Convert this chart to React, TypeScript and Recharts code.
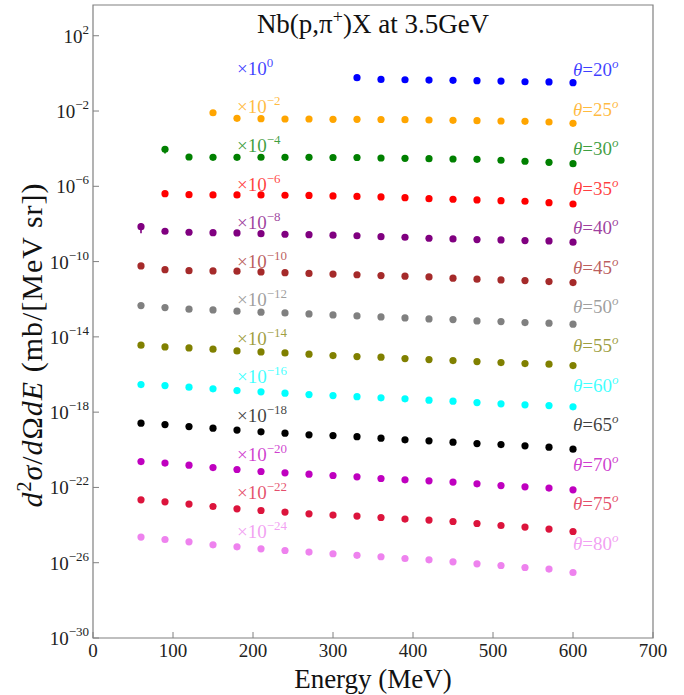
import React from "react"
import { ScatterChart, Scatter, XAxis, YAxis, ReferenceArea, ErrorBar } from "recharts"

// pion kinetic energy (MeV)
const ENERGY = [60, 90, 120, 150, 180, 210, 240, 270, 300, 330, 360, 390, 420, 450, 480, 510, 540, 570, 600]

// emission angle (deg) and the power of ten each angle is scaled by
const ANGLES = [20, 25, 30, 35, 40, 45, 50, 55, 60, 65, 70, 75, 80]
const SCALE_EXP = [0, -2, -4, -6, -8, -10, -12, -14, -16, -18, -20, -22, -24]
const COLORS = [
  "#0000ff", "#ffa500", "#008000", "#ff0000", "#800080", "#a52a2a", "#808080",
  "#808000", "#00ffff", "#000000", "#bf00bf", "#dc143c", "#ee82ee",
]

// d2sigma/dOmega dE in mb/(MeV sr), unscaled; each list ends at 600 MeV
const theta20 = [0.59, 0.48, 0.46, 0.44, 0.43, 0.41, 0.39, 0.36, 0.35, 0.32]
const theta25 = [0.81, 0.41, 0.39, 0.377, 0.377, 0.363, 0.363, 0.355, 0.346, 0.333, 0.321, 0.306, 0.295, 0.284, 0.261, 0.223]
const theta30 = [0.93, 0.361, 0.348, 0.348, 0.35, 0.348, 0.348, 0.34, 0.34, 0.32, 0.308, 0.294, 0.283, 0.273, 0.242, 0.214, 0.189, 0.159]
const theta35 = [0.407, 0.36, 0.347, 0.347, 0.347, 0.334, 0.327, 0.307, 0.289, 0.272, 0.249, 0.221, 0.205, 0.188, 0.173, 0.161, 0.135, 0.115]
const theta40 = [0.72, 0.41, 0.362, 0.345, 0.333, 0.305, 0.284, 0.27, 0.254, 0.236, 0.211, 0.197, 0.174, 0.16, 0.147, 0.141, 0.13, 0.125, 0.107]
const theta45 = [0.588, 0.374, 0.331, 0.319, 0.308, 0.282, 0.259, 0.235, 0.216, 0.2, 0.18, 0.167, 0.153, 0.131, 0.116, 0.106, 0.0975, 0.0863, 0.0764]
const theta50 = [0.458, 0.359, 0.295, 0.271, 0.231, 0.205, 0.188, 0.166, 0.147, 0.13, 0.115, 0.102, 0.0902, 0.0828, 0.0706, 0.0649, 0.0573, 0.0533, 0.0471]
const theta55 = [0.361, 0.294, 0.26, 0.222, 0.18, 0.159, 0.141, 0.12, 0.101, 0.0897, 0.0834, 0.0703, 0.0622, 0.055, 0.0487, 0.043, 0.0381, 0.0354, 0.0299]
const theta60 = [0.292, 0.259, 0.213, 0.173, 0.14, 0.12, 0.102, 0.0861, 0.0762, 0.0665, 0.0575, 0.0509, 0.0434, 0.0384, 0.0324, 0.0276, 0.0244, 0.0224, 0.0191]
const theta65 = [0.261, 0.22, 0.172, 0.141, 0.111, 0.0899, 0.0767, 0.0622, 0.0571, 0.05, 0.0416, 0.0338, 0.0299, 0.0255, 0.0215, 0.019, 0.0162, 0.0138, 0.0108]
const theta70 = [0.238, 0.196, 0.153, 0.114, 0.0895, 0.0701, 0.0597, 0.0509, 0.043, 0.0366, 0.0298, 0.0254, 0.0225, 0.0192, 0.0156, 0.0126, 0.0108, 0.0092, 0.00746]
const theta75 = [0.22, 0.172, 0.13, 0.097, 0.0733, 0.0594, 0.0489, 0.0397, 0.0339, 0.03, 0.0253, 0.0208, 0.0184, 0.0155, 0.0121, 0.0095, 0.0078, 0.0061, 0.00456]
const theta80 = [0.23, 0.171, 0.129, 0.0897, 0.0703, 0.055, 0.0447, 0.0367, 0.0299, 0.0248, 0.0207, 0.0168, 0.0143, 0.0112, 0.00877, 0.00713, 0.00558, 0.00459, 0.00303]

// errors on the lowest-energy points (same units)
const theta30Err = [0.38]
const theta40Err = [0.4]

const VALUES = [theta20, theta25, theta30, theta35, theta40, theta45, theta50, theta55, theta60, theta65, theta70, theta75, theta80]
const ERRORS: number[][] = [[], [], theta30Err, [], theta40Err, [], [], [], [], [], [], [], []]

const X_TICKS = [0, 100, 200, 300, 400, 500, 600, 700]
const Y_TICKS = [1e2, 1e-2, 1e-6, 1e-10, 1e-14, 1e-18, 1e-22, 1e-26, 1e-30]
const Y_MIN = 1e-30
const Y_MAX = 4300

const FONT = "'Liberation Serif', 'DejaVu Serif', serif"
const W = 684
const H = 695
const PLOT_LEFT = 93
const PLOT_RIGHT = 653
const PLOT_TOP = 5
const PLOT_BOTTOM = 638
const AXIS_GRAY = "#808080"

const fmtExp = (e: number) => (e < 0 ? "\u2212" + -e : String(e))

const series = ANGLES.map((angle, i) => {
  const vals = VALUES[i]
  const start = ENERGY.length - vals.length
  const f = Math.pow(10, SCALE_EXP[i])
  return {
    angle,
    color: COLORS[i],
    exp: SCALE_EXP[i],
    points: vals.map((v, j) => ({
      x: ENERGY[start + j],
      y: v * f,
      err: (ERRORS[i][j] ?? 0) * f,
    })),
  }
})

// text anchors: "x10^n" near 180 MeV, "theta=.." at 600 MeV, stepping down the log axis
const scaleLabels = series.map((s, i) => ({
  x: 180,
  y: Math.pow(10, 0.27 - 2.05 * i),
  color: s.color,
  exp: s.exp,
}))
const angleLabels = series.map((s, i) => ({
  x: 600,
  y: Math.pow(10, 0.18 - 2.095 * i),
  color: s.color,
  angle: s.angle,
}))

const Dot = (color: string) => (props: any) => (
  <circle cx={props.cx} cy={props.cy} r={3.6} fill={color} />
)

const ScaleText = (props: any) => {
  const { cx, cy, payload } = props
  return (
    <text x={cx} y={cy + 6.5} fill={payload.color} fillOpacity={0.75} fontSize={19} fontFamily={FONT}>
      ×10
      <tspan dy={-8} fontSize={13}>{fmtExp(payload.exp)}</tspan>
    </text>
  )
}

const AngleText = (props: any) => {
  const { cx, cy, payload } = props
  return (
    <text x={cx} y={cy + 6.5} fill={payload.color} fillOpacity={0.75} fontSize={19} fontFamily={FONT}>
      <tspan fontStyle="italic">θ</tspan>={payload.angle}
      <tspan dy={-8} fontSize={13} fontStyle="italic">o</tspan>
    </text>
  )
}

const YTick = (props: any) => {
  const { x, y, payload } = props
  const e = Math.round(Math.log10(payload.value))
  return (
    <g>
      <line x1={PLOT_LEFT} x2={PLOT_LEFT + 6} y1={y} y2={y} stroke={AXIS_GRAY} />
      <text x={x} y={y + 7} textAnchor="end" fontSize={19} fontFamily={FONT} fill="#222">
        10
        <tspan dy={-9} fontSize={13}>{fmtExp(e)}</tspan>
      </text>
    </g>
  )
}

const XTick = (props: any) => {
  const { x, payload } = props
  return (
    <g>
      <line x1={x} x2={x} y1={PLOT_BOTTOM} y2={PLOT_BOTTOM - 6} stroke={AXIS_GRAY} />
      <text x={x} y={PLOT_BOTTOM + 19} textAnchor="middle" fontSize={19} fontFamily={FONT} fill="#222">
        {payload.value}
      </text>
    </g>
  )
}

export default function App() {
  return (
    <div style={{ position: "absolute", left: 0, top: 0, width: W, height: H, background: "#fff" }}>
      <ScatterChart
        width={W}
        height={H}
        margin={{ top: PLOT_TOP, right: W - PLOT_RIGHT, bottom: H - PLOT_BOTTOM - 30, left: PLOT_LEFT - 60 }}
      >
        <XAxis
          type="number"
          dataKey="x"
          domain={[0, 700]}
          ticks={X_TICKS}
          height={30}
          axisLine={false}
          tickLine={false}
          tick={<XTick />}
          interval={0}
        />
        <YAxis
          type="number"
          dataKey="y"
          scale="log"
          domain={[Y_MIN, Y_MAX]}
          allowDataOverflow
          ticks={Y_TICKS}
          width={60}
          axisLine={false}
          tickLine={false}
          tickSize={0}
          tickMargin={4}
          tick={<YTick />}
          interval={0}
        />
        <ReferenceArea x1={0} x2={700} y1={Y_MIN} y2={Y_MAX} fill="none" stroke={AXIS_GRAY} strokeWidth={1.2} />
        {series.map((s) => (
          <Scatter key={s.angle} data={s.points} shape={Dot(s.color)} isAnimationActive={false}>
            <ErrorBar dataKey="err" direction="y" width={0} stroke={s.color} strokeWidth={1.6} />
          </Scatter>
        ))}
        <Scatter data={scaleLabels} shape={<ScaleText />} isAnimationActive={false} />
        <Scatter data={angleLabels} shape={<AngleText />} isAnimationActive={false} />
      </ScatterChart>
      <svg width={W} height={H} style={{ position: "absolute", left: 0, top: 0, pointerEvents: "none" }}>
        <text x={373} y={33} textAnchor="middle" fontSize={27} fontFamily={FONT} fill="#111">
          Nb(p,π<tspan dy={-10} fontSize={18}>+</tspan>
          <tspan dy={10}>)X at 3.5GeV</tspan>
        </text>
        <text x={373} y={688} textAnchor="middle" fontSize={27} fontFamily={FONT} fill="#111">
          Energy (MeV)
        </text>
        <text
          x={42}
          y={345}
          textAnchor="middle"
          fontSize={30}
          letterSpacing={1}
          fontFamily={FONT}
          fill="#111"
          transform="rotate(-90, 42, 345)"
        >
          <tspan fontStyle="italic">d</tspan>
          <tspan dy={-11} fontSize={20}>2</tspan>
          <tspan dy={11} fontStyle="italic">σ</tspan>/<tspan fontStyle="italic">d</tspan>Ω
          <tspan fontStyle="italic">dE</tspan> (mb/[MeV sr])
        </text>
      </svg>
    </div>
  )
}
